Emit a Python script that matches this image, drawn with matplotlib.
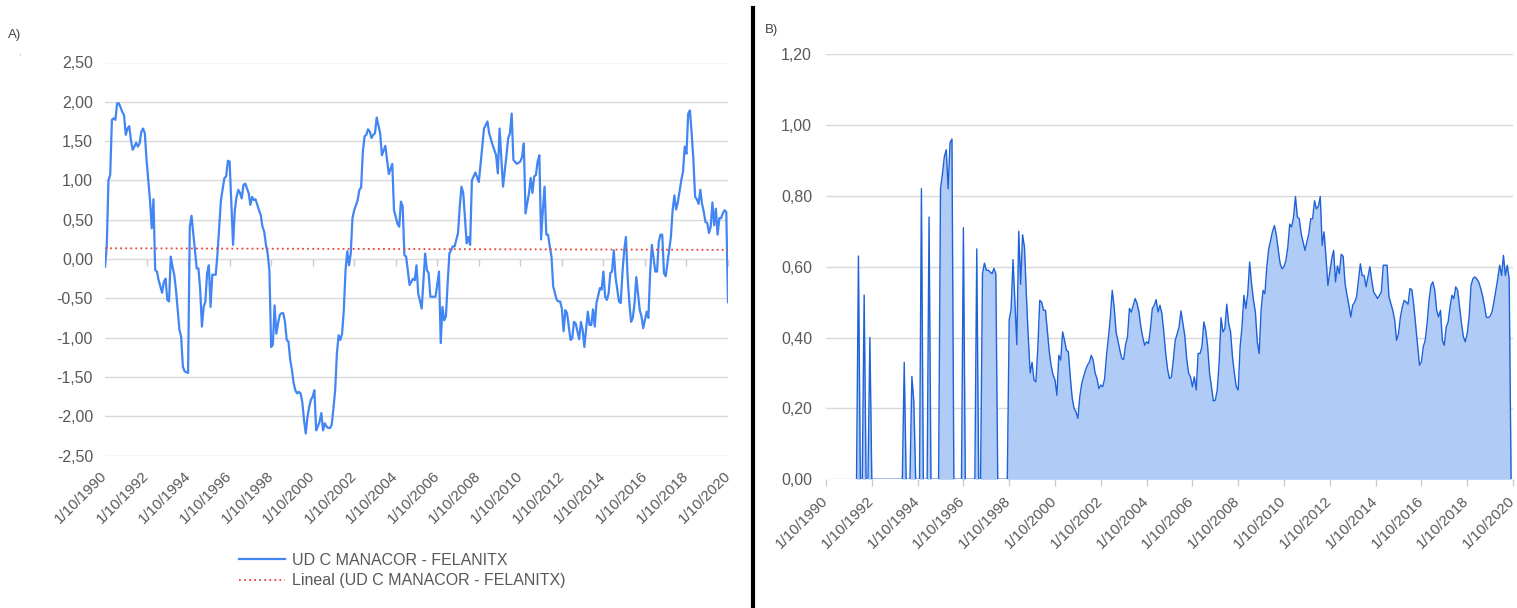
import numpy as np
import matplotlib
matplotlib.use("Agg")
import matplotlib.pyplot as plt
from matplotlib.ticker import FuncFormatter
from matplotlib.lines import Line2D
from matplotlib.transforms import ScaledTranslation

plt.rcParams['font.family'] = ['Liberation Sans', 'DejaVu Sans']

# ---------------------------------------------------------------- data
# months counted from 1/10/1990
tick_months = [0, 24, 48, 72, 96, 120, 144, 168, 192, 216, 240, 264, 288, 312, 336, 360]
tick_labels = ["1/10/1990", "1/10/1992", "1/10/1994", "1/10/1996", "1/10/1998",
               "1/10/2000", "1/10/2002", "1/10/2004", "1/10/2006", "1/10/2008",
               "1/10/2010", "1/10/2012", "1/10/2014", "1/10/2016", "1/10/2018",
               "1/10/2020"]

series_a_name = "UD C MANACOR - FELANITX"
trend_a_name = "Lineal (UD C MANACOR - FELANITX)"

a_month = [
    0, 1, 2, 3, 4, 5, 6, 7, 8, 9, 10, 11, 12, 13, 14, 15, 16, 17, 18, 19, 20,
    21, 22, 23, 24, 25, 26, 27, 28, 29, 30, 31, 32, 33, 34, 35, 36, 37, 38, 39,
    40, 41, 43, 44, 45, 46, 48, 49, 50, 51, 53, 54, 55, 56, 57, 58, 59, 60, 61,
    62, 64, 65, 66, 67, 69, 70, 71, 72, 74, 75, 76, 77, 78, 79, 80, 81, 82, 83,
    84, 85, 86, 87, 89, 90, 91, 92, 93, 94, 95, 96, 97, 98, 99, 100, 101, 102,
    103, 104, 105, 106, 107, 108, 109, 110, 111, 112, 113, 114, 115, 116, 117,
    118, 119, 120, 121, 122, 123, 124, 125, 126, 127, 128, 129, 130, 131, 132,
    133, 134, 135, 136, 137, 138, 139, 140, 141, 142, 143, 144, 146, 147, 148,
    149, 150, 151, 152, 153, 154, 155, 156, 157, 159, 160, 162, 164, 166, 167,
    169, 170, 171, 172, 173, 174, 176, 178, 179, 180, 181, 183, 184, 185, 186,
    187, 188, 191, 193, 194, 195, 196, 197, 198, 199, 201, 202, 204, 205, 206,
    207, 209, 210, 211, 212, 214, 216, 217, 219, 221, 222, 224, 226, 227, 228,
    230, 232, 233, 234, 235, 236, 238, 240, 241, 242, 243, 245, 246, 247, 248,
    249, 250, 251, 252, 253, 254, 255, 256, 257, 258, 259, 261, 262, 263, 264,
    265, 266, 267, 269, 270, 271, 272, 274, 275, 276, 277, 278, 279, 280, 281,
    282, 283, 284, 286, 287, 288, 289, 290, 291, 292, 293, 294, 295, 297, 298,
    299, 300, 301, 302, 303, 304, 305, 306, 307, 308, 309, 310, 311, 313, 314,
    315, 316, 318, 319, 320, 321, 322, 323, 324, 325, 327, 328, 329, 330, 331,
    333, 334, 335, 336, 337, 338, 339, 340, 341, 342, 343, 344, 345, 346, 347,
    348, 349, 350, 351, 352, 353, 354, 355, 356, 357, 358, 359, 360,
]
a_value = [
    -0.10, 0.15, 1.00, 1.07, 1.77, 1.79, 1.77, 1.98, 1.98, 1.93, 1.87, 1.83,
    1.58, 1.66, 1.69, 1.51, 1.39, 1.43, 1.48, 1.43, 1.47, 1.62, 1.66, 1.60,
    1.26, 1.00, 0.75, 0.39, 0.76, -0.14, -0.16, -0.27, -0.35, -0.43, -0.29,
    -0.25, -0.52, -0.54, 0.03, -0.10, -0.20, -0.39, -0.90, -0.99, -1.37, -1.43,
    -1.45, 0.41, 0.55, 0.33, -0.12, -0.12, -0.39, -0.86, -0.61, -0.54, -0.18,
    -0.08, -0.61, -0.20, -0.20, 0.07, 0.40, 0.75, 1.03, 1.05, 1.25, 1.24, 0.18,
    0.62, 0.79, 0.88, 0.84, 0.77, 0.94, 0.96, 0.90, 0.84, 0.69, 0.79, 0.75,
    0.76, 0.62, 0.56, 0.41, 0.35, 0.18, 0.07, -0.14, -1.12, -1.09, -0.59, -0.95,
    -0.82, -0.71, -0.69, -0.69, -0.80, -1.03, -1.05, -1.28, -1.41, -1.58, -1.67,
    -1.71, -1.69, -1.71, -1.82, -2.05, -2.22, -2.01, -1.88, -1.79, -1.75, -1.67,
    -2.18, -2.13, -2.07, -1.96, -2.18, -2.09, -2.13, -2.15, -2.15, -2.11, -1.90,
    -1.67, -1.20, -0.97, -1.03, -0.95, -0.65, -0.14, 0.10, -0.08, 0.07, 0.52,
    0.62, 0.75, 0.88, 0.91, 1.37, 1.56, 1.58, 1.65, 1.62, 1.54, 1.58, 1.60,
    1.80, 1.60, 1.32, 1.44, 1.08, 1.21, 0.62, 0.45, 0.41, 0.73, 0.67, 0.05,
    0.03, -0.33, -0.25, -0.27, -0.08, -0.44, -0.63, -0.29, 0.07, -0.14, -0.18,
    -0.48, -0.48, -0.16, -1.07, -0.61, -0.78, -0.73, -0.31, 0.07, 0.16, 0.16,
    0.33, 0.67, 0.92, 0.84, 0.20, 0.28, 0.18, 1.00, 1.10, 0.98, 1.20, 1.66,
    1.75, 1.60, 1.45, 1.32, 1.09, 1.66, 0.92, 1.32, 1.54, 1.60, 1.85, 1.26,
    1.21, 1.24, 1.30, 1.47, 0.58, 0.84, 1.03, 0.84, 1.05, 1.07, 1.24, 1.32,
    0.25, 0.62, 0.92, 0.31, 0.31, 0.16, 0.03, -0.35, -0.52, -0.54, -0.54, -0.63,
    -0.92, -0.65, -0.69, -1.03, -1.01, -0.80, -0.82, -1.02, -0.80, -0.90, -1.12,
    -0.90, -0.67, -0.84, -0.84, -0.64, -0.86, -0.56, -0.37, -0.39, -0.16, -0.48,
    -0.52, -0.44, -0.18, -0.16, 0.11, -0.23, -0.54, -0.56, -0.18, 0.11, 0.28,
    -0.23, -0.56, -0.80, -0.75, -0.56, -0.23, -0.44, -0.65, -0.73, -0.88, -0.67,
    -0.75, -0.18, 0.18, -0.16, -0.16, 0.22, 0.31, 0.31, -0.18, -0.22, -0.05,
    0.28, 0.62, 0.81, 0.63, 0.72, 1.00, 1.11, 1.43, 1.34, 1.85, 1.89, 1.60,
    1.26, 0.79, 0.76, 0.70, 0.88, 0.70, 0.60, 0.47, 0.46, 0.33, 0.41, 0.72,
    0.43, 0.64, 0.31, 0.52, 0.52, 0.58, 0.62, 0.60, -0.55,
]

# panel B: one value per month, first value at month 16 (1/02/1992)
b_first_month = 16
b_value = [
    0.0, 0.63, 0.0, 0.0, 0.52, 0.0, 0.0, 0.40,                      # 16-23
    0.0, 0.0, 0.0, 0.0, 0.0, 0.0, 0.0, 0.0,                          # 24-31
    0.0, 0.0, 0.0, 0.0, 0.0, 0.0, 0.0, 0.0,                          # 32-39
    0.0, 0.33, 0.0, 0.0, 0.0, 0.29, 0.22, 0.0,                       # 40-47
    0.0, 0.0, 0.82, 0.0, 0.0, 0.0, 0.74, 0.0,                        # 48-55
    0.0, 0.0, 0.0, 0.0, 0.82, 0.86, 0.91, 0.93,                      # 56-63
    0.82, 0.95, 0.96, 0.0, 0.0, 0.0, 0.0, 0.0,                       # 64-71
    0.71, 0.0, 0.0, 0.0, 0.0, 0.0, 0.0, 0.65,                        # 72-79
    0.0, 0.0, 0.58, 0.61, 0.59, 0.59, 0.585, 0.58,                   # 80-87
    0.595, 0.58, 0.0, 0.0, 0.0, 0.0, 0.0, 0.0,                       # 88-95
    0.45, 0.48, 0.62, 0.50, 0.38, 0.70, 0.55, 0.69,                  # 96-103
    0.655, 0.52, 0.40, 0.30, 0.33, 0.28, 0.275, 0.37,                # 104-111
    0.505, 0.50, 0.477, 0.477, 0.42, 0.36, 0.32, 0.294,              # 112-119
    0.28, 0.237, 0.35, 0.336, 0.416, 0.392, 0.364, 0.36,             # 120-127
    0.289, 0.23, 0.20, 0.19, 0.172, 0.233, 0.27, 0.29,               # 128-135
    0.308, 0.322, 0.33, 0.35, 0.336, 0.30, 0.284, 0.256,             # 136-143
    0.266, 0.261, 0.284, 0.35, 0.40, 0.458, 0.533, 0.486,            # 144-151
    0.416, 0.39, 0.364, 0.341, 0.338, 0.38, 0.402, 0.482,            # 152-159
    0.472, 0.491, 0.51, 0.496, 0.472, 0.43, 0.40, 0.378,             # 160-167
    0.388, 0.383, 0.425, 0.482, 0.491, 0.507, 0.472, 0.491,          # 168-175
    0.468, 0.416, 0.355, 0.31, 0.284, 0.289, 0.336, 0.392,           # 176-183
    0.41, 0.43, 0.475, 0.44, 0.406, 0.341, 0.30, 0.289,              # 184-191
    0.261, 0.289, 0.252, 0.355, 0.355, 0.374, 0.444, 0.42,           # 192-199
    0.374, 0.299, 0.261, 0.221, 0.223, 0.252, 0.327, 0.456,          # 200-207
    0.416, 0.425, 0.494, 0.44, 0.416, 0.345, 0.299, 0.261,           # 208-215
    0.252, 0.374, 0.43, 0.519, 0.482, 0.524, 0.613, 0.552,           # 216-223
    0.505, 0.472, 0.388, 0.355, 0.477, 0.533, 0.524, 0.60,           # 224-231
    0.651, 0.674, 0.70, 0.716, 0.688, 0.646, 0.608, 0.594,           # 232-239
    0.60, 0.618, 0.655, 0.72, 0.712, 0.74, 0.798, 0.74,              # 240-247
    0.735, 0.693, 0.669, 0.646, 0.669, 0.693, 0.735, 0.735,          # 248-255
    0.786, 0.763, 0.77, 0.798, 0.66, 0.698, 0.627, 0.547,            # 256-263
    0.585, 0.622, 0.646, 0.557, 0.602, 0.58, 0.635, 0.629,           # 264-271
    0.552, 0.52, 0.491, 0.458, 0.491, 0.50, 0.514, 0.561,            # 272-279
    0.608, 0.575, 0.575, 0.543, 0.571, 0.60, 0.561, 0.528,           # 280-287
    0.52, 0.51, 0.519, 0.528, 0.604, 0.604, 0.604, 0.514,            # 288-295
    0.496, 0.477, 0.449, 0.392, 0.411, 0.458, 0.486, 0.505,          # 296-303
    0.50, 0.494, 0.538, 0.535, 0.491, 0.435, 0.38, 0.322,            # 304-311
    0.331, 0.374, 0.392, 0.44, 0.505, 0.547, 0.557, 0.533,           # 312-319
    0.477, 0.458, 0.477, 0.392, 0.378, 0.43, 0.444, 0.486,           # 320-327
    0.519, 0.51, 0.543, 0.533, 0.486, 0.44, 0.402, 0.388,            # 328-335
    0.411, 0.458, 0.547, 0.566, 0.571, 0.566, 0.557, 0.54,           # 336-343
    0.519, 0.491, 0.458, 0.456, 0.46, 0.472, 0.50, 0.533,            # 344-351
    0.566, 0.604, 0.575, 0.632, 0.575, 0.604, 0.566, 0.0,            # 352-359
]
b_month = np.arange(b_first_month, b_first_month + len(b_value))

# ---------------------------------------------------------------- style
TEXT = '#595959'
GRID = '#d9d9d9'
FS = 11.5      # value labels and legend
FS_X = 10.8    # slanted date labels

W, H = 1517, 608
fig = plt.figure(figsize=(W / 100, H / 100), dpi=100)
fig.patch.set_facecolor('white')


def comma_fmt(v, _pos=None):
    if abs(v) < 1e-9:
        v = 0.0
    return f"{v:.2f}".replace('.', ',')


def base_style(ax, ylim, yticks, ypad):
    ax.set_xlim(0, 360)
    ax.set_ylim(*ylim)
    ax.set_yticks(yticks)
    ax.yaxis.set_major_formatter(FuncFormatter(comma_fmt))
    ax.grid(axis='y', color=GRID, lw=1.0)
    ax.set_axisbelow(True)
    for s in ax.spines.values():
        s.set_visible(False)
    ax.tick_params(axis='y', length=0, pad=ypad, labelsize=FS, labelcolor=TEXT)


def slant(labels, dx_px):
    # labels end (baseline, right side) just below their tick
    off = ScaledTranslation(dx_px / 100, 0, fig.dpi_scale_trans)
    for lab in labels:
        lab.set_rotation(45)
        lab.set_rotation_mode('anchor')
        lab.set_ha('right')
        lab.set_va('baseline')
        lab.set_transform(lab.get_transform() + off)


# ---------------------------------------------------------------- panel A
axA = fig.add_axes([105 / W, 1 - 455.5 / H, 623 / W, 393 / H])
base_style(axA, (-2.5, 2.5), np.linspace(-2.5, 2.5, 11), 8.6)

lineA, = axA.plot(a_month, a_value, color='#4285f4', lw=1.6,
                  solid_joinstyle='round', label=series_a_name)
slope, icept = np.polyfit(a_month, a_value, 1)
trend_x = np.array([0, 360])
trendA, = axA.plot(trend_x, icept + slope * trend_x, color='#ea4335', lw=1.3,
                   linestyle=(0, (1, 1.8)), label=trend_a_name)

# tick marks sit on the zero line, labels at the bottom of the plot
axA.spines['bottom'].set_position(('data', 0))
axA.set_xticks(tick_months)
axA.tick_params(axis='x', length=5, width=1, color='#cccccc', labelbottom=False)
secA = axA.secondary_xaxis('bottom')
secA.set_xticks(tick_months, labels=tick_labels)
secA.tick_params(axis='x', length=0, pad=15.0, labelsize=FS_X, labelcolor=TEXT)
secA.spines['bottom'].set_visible(False)
slant(secA.get_xticklabels(), 3)

fig.legend(handles=[lineA, trendA], loc='upper left',
           bbox_to_anchor=(239 / W, 1 - 553 / H), frameon=False, borderpad=0,
           borderaxespad=0, handlelength=2.9, handletextpad=0.4,
           labelspacing=0.33, fontsize=FS, labelcolor=TEXT)

# ---------------------------------------------------------------- panel B
axB = fig.add_axes([826 / W, 1 - 479.3 / H, 687 / W, 425.3 / H])
base_style(axB, (0, 1.2), np.linspace(0, 1.2, 7), 10.0)
axB.fill_between(b_month, b_value, 0, color='#afcbf6', lw=0)
axB.plot(b_month, b_value, color='#1f62d8', lw=1.0)
axB.set_xticks(tick_months, labels=tick_labels)
axB.tick_params(axis='x', length=5, width=1, color='#cccccc', pad=11,
                labelsize=FS_X, labelcolor=TEXT)
slant(axB.get_xticklabels(), 2.5)

# ---------------------------------------------------------------- frame texts
fig.text(8 / W, 1 - 35 / H, 'A)', ha='left', va='center', fontsize=9.5, color='#444444')
fig.text(765 / W, 1 - 30 / H, 'B)', ha='left', va='center', fontsize=9.5, color='#444444')
fig.text(20 / W, 1 - 57 / H, "'", ha='center', va='center', fontsize=5, color='#888888')
fig.add_artist(Line2D([753 / W, 753 / W], [0, 1 - 8 / H], color='black', lw=3.0,
                      transform=fig.transFigure))

fig.savefig('out.png', dpi=100, facecolor='white')
